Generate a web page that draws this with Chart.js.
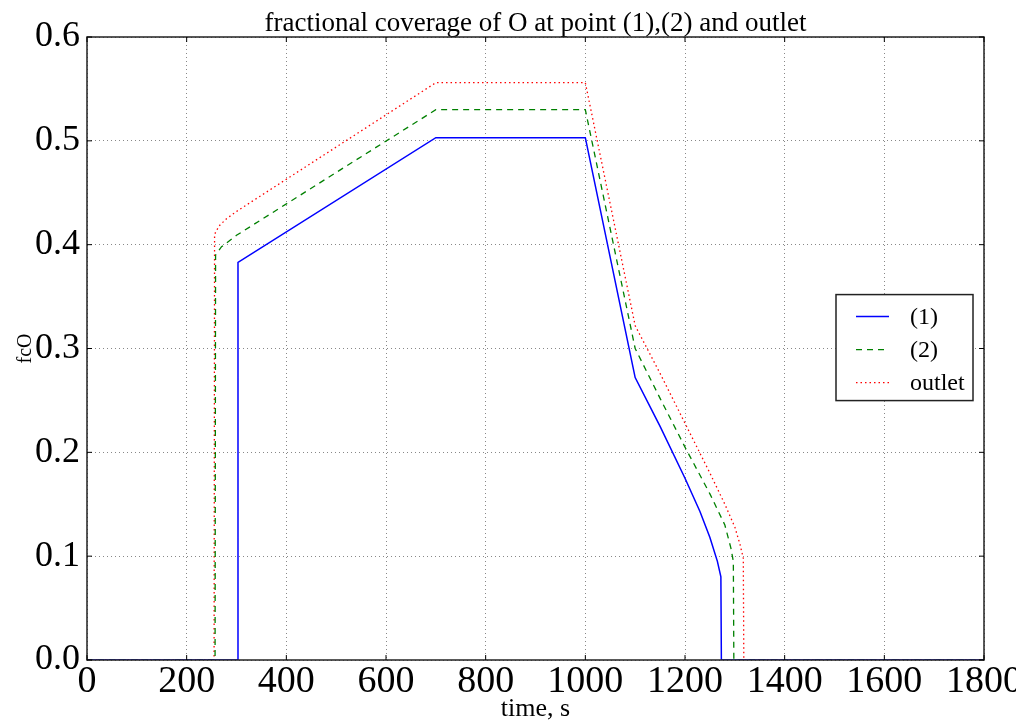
<!DOCTYPE html>
<html>
<head>
<meta charset="utf-8">
<script src="https://cdn.jsdelivr.net/npm/chart.js@4/dist/chart.umd.min.js"></script>
<style>
  html, body { margin: 0; padding: 0; background: #fff; }
  #wrap { width: 1016px; height: 725px; }
</style>
</head>
<body>
<div id="wrap"><canvas id="c" width="1016" height="725"></canvas></div>
<script>
const titleText = "fractional coverage of O at point (1),(2) and outlet";
const xTitle = "time, s";
const yTitle = "fcO";
const seriesLabels = ["(1)", "(2)", "outlet"];

const time1 = [0, 302, 303, 700, 1000, 1100, 1150, 1200, 1230, 1250, 1265, 1272, 1273, 1800];
const fc1   = [0, 0, 0.383, 0.503, 0.503, 0.272, 0.225, 0.175, 0.143, 0.118, 0.095, 0.080, 0, 0];

const time2 = [0, 257, 258, 270, 300, 700, 1000, 1100, 1150, 1200, 1250, 1280, 1292, 1297, 1298, 1800];
const fc2   = [0, 0, 0.390, 0.398, 0.409, 0.530, 0.530, 0.300, 0.252, 0.205, 0.160, 0.130, 0.108, 0.095, 0, 0];

const time3 = [0, 255, 256, 265, 280, 300, 700, 1000, 1100, 1150, 1200, 1250, 1280, 1300, 1310, 1317, 1318, 1800];
const fc3   = [0, 0, 0.410, 0.418, 0.425, 0.432, 0.556, 0.556, 0.322, 0.276, 0.228, 0.180, 0.150, 0.128, 0.112, 0.098, 0, 0];

const xTicks = [0, 200, 400, 600, 800, 1000, 1200, 1400, 1600, 1800];
const yTicks = [0.0, 0.1, 0.2, 0.3, 0.4, 0.5, 0.6];

function pts(t, v) { return t.map((x, i) => ({x: x, y: v[i]})); }

const serif = "'Liberation Serif', 'DejaVu Serif', serif";

const frameAndLegend = {
  id: 'frameAndLegend',
  afterDatasetsDraw(chart) {
    const ctx = chart.ctx, a = chart.chartArea;
    ctx.save();
    ctx.fillStyle = '#000';
    ctx.font = "27px " + serif;
    ctx.textAlign = 'center';
    ctx.textBaseline = 'alphabetic';
    ctx.fillText(titleText, (a.left + a.right) / 2, a.top - 6);
    ctx.textAlign = 'left';

    ctx.strokeStyle = '#222';
    ctx.lineWidth = 1.5;
    ctx.strokeRect(a.left, a.top, a.right - a.left, a.bottom - a.top);
    ctx.lineWidth = 1;
    ctx.strokeStyle = '#000';
    const xs = chart.scales.x, ys = chart.scales.y;
    xTicks.forEach(v => {
      const px = xs.getPixelForValue(v);
      ctx.beginPath(); ctx.moveTo(px, a.bottom); ctx.lineTo(px, a.bottom - 5); ctx.stroke();
      ctx.beginPath(); ctx.moveTo(px, a.top); ctx.lineTo(px, a.top + 5); ctx.stroke();
    });
    yTicks.forEach(v => {
      const py = ys.getPixelForValue(v);
      ctx.beginPath(); ctx.moveTo(a.left, py); ctx.lineTo(a.left + 5, py); ctx.stroke();
      ctx.beginPath(); ctx.moveTo(a.right, py); ctx.lineTo(a.right - 5, py); ctx.stroke();
    });
    const bw = 137, bh = 106;
    const bx = a.right - 11 - bw, by = ys.getPixelForValue(0.35) - 2;
    ctx.fillStyle = '#fff';
    ctx.fillRect(bx, by, bw, bh);
    ctx.strokeStyle = '#222';
    ctx.lineWidth = 1.5;
    ctx.strokeRect(bx, by, bw, bh);
    ctx.font = "24px " + serif;
    ctx.textBaseline = 'middle';
    chart.data.datasets.forEach((ds, i) => {
      const yy = by + 22 + i * 33;
      ctx.strokeStyle = ds.borderColor;
      ctx.lineWidth = ds.borderWidth;
      ctx.setLineDash(ds.borderDash || []);
      ctx.beginPath(); ctx.moveTo(bx + 20, yy); ctx.lineTo(bx + 53, yy); ctx.stroke();
      ctx.setLineDash([]);
      ctx.fillStyle = '#000';
      ctx.fillText(ds.label, bx + 74, yy + 1);
    });
    ctx.restore();
  }
};

new Chart(document.getElementById('c'), {
  type: 'line',
  data: {
    datasets: [
      { label: seriesLabels[0], data: pts(time1, fc1), borderColor: '#0000ff', borderWidth: 1.5, pointRadius: 0, fill: false, tension: 0 },
      { label: seriesLabels[1], data: pts(time2, fc2), borderColor: '#008000', borderWidth: 1.3, borderDash: [6, 5], pointRadius: 0, fill: false, tension: 0 },
      { label: seriesLabels[2], data: pts(time3, fc3), borderColor: '#ff0000', borderWidth: 1.3, borderDash: [1.5, 3], pointRadius: 0, fill: false, tension: 0 }
    ]
  },
  options: {
    responsive: false,
    animation: false,
    devicePixelRatio: 1,
    layout: { padding: { left: 0, right: 32, top: 37, bottom: 0 } },
    plugins: {
      legend: { display: false },
      tooltip: { enabled: false },
      title: { display: false }
    },
    scales: {
      x: {
        type: 'linear', min: 0, max: 1800,
        afterBuildTicks: s => { s.ticks = xTicks.map(v => ({value: v})); },
        afterFit: s => { s.height = 65; s.paddingLeft = 0; s.paddingRight = 0; },
        ticks: { color: '#000', font: { family: serif, size: 38 }, padding: -1, maxRotation: 0, autoSkip: false, callback: v => String(v) },
        grid: { color: '#888', lineWidth: 1, drawTicks: false },
        border: { display: false, dash: [1, 3] },
        title: { display: true, text: xTitle, color: '#000', font: { family: serif, size: 26 }, padding: { top: 0, bottom: 0 } }
      },
      y: {
        type: 'linear', min: 0, max: 0.6,
        afterBuildTicks: s => { s.ticks = yTicks.map(v => ({value: v})); },
        afterFit: s => { s.width = 87; s.paddingTop = 0; s.paddingBottom = 0; },
        ticks: { color: '#000', font: { family: serif, size: 36 }, padding: 7, callback: v => v.toFixed(1) },
        grid: { color: '#888', lineWidth: 1, drawTicks: false },
        border: { display: false, dash: [1, 3] },
        title: { display: true, text: yTitle, color: '#000', font: { family: serif, size: 20 }, padding: { top: 14, bottom: 0 } }
      }
    }
  },
  plugins: [frameAndLegend]
});
</script>
</body>
</html>
